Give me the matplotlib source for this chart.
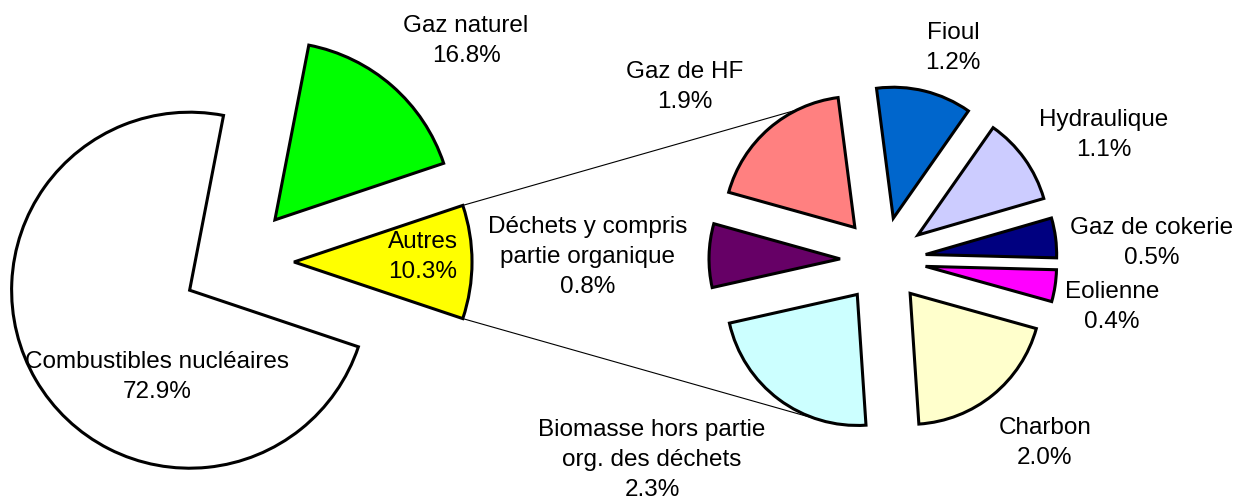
import numpy as np
import matplotlib
matplotlib.use("Agg")
import matplotlib.pyplot as plt

plt.rcParams['font.family'] = ['Liberation Sans', 'DejaVu Sans']

# main pie (counterclockwise from the "Autres" slice)
main_labels = ["Autres", "Gaz naturel", "Combustibles nucléaires"]
main_values = [10.3, 16.8, 72.9]
main_colors = ["#FFFF00", "#00FF00", "#FFFFFF"]

# breakdown of "Autres" (counterclockwise from Fioul)
sub_labels = ["Fioul", "Gaz de HF", "Déchets y compris\npartie organique",
              "Biomasse hors partie\norg. des déchets", "Charbon", "Eolienne",
              "Gaz de cokerie", "Hydraulique"]
sub_values = [1.2, 1.9, 0.8, 2.3, 2.0, 0.4, 0.5, 1.1]
sub_colors = ["#0066CC", "#FF8080", "#660066", "#CCFFFF", "#FFFFCC",
              "#FF00FF", "#000080", "#CCCCFF"]

W, H = 1253, 504

fig = plt.figure(figsize=(W / 100, H / 100), dpi=100)
ax = fig.add_axes([0, 0, 1, 1])

wp = dict(edgecolor="black", linewidth=2.2)

# explode is an absolute offset (pixels here)
start_main = -180 * main_values[0] / sum(main_values)
main_wedges, _ = ax.pie(main_values, colors=main_colors, radius=178,
                        center=(238, H - 262), startangle=start_main,
                        explode=[56] * 3, wedgeprops=wp)
sub_wedges, _ = ax.pie(sub_values, colors=sub_colors, radius=131,
                       center=(883, H - 260), startangle=55,
                       explode=[43] * len(sub_values), wedgeprops=wp)


def arc_point(w, ang):
    a = np.deg2rad(ang)
    return w.center[0] + w.r * np.cos(a), w.center[1] + w.r * np.sin(a)


# connector lines from "Autres" to the secondary pie
autres = main_wedges[0]
for a_ang, w, s_ang in [(autres.theta2, sub_wedges[1], 116),
                        (autres.theta1, sub_wedges[3], 255)]:
    x0, y0 = arc_point(autres, a_ang)
    x1, y1 = arc_point(w, s_ang)
    ax.plot([x0, x1], [y0, y1], color="black", linewidth=0.8, zorder=0.5)

# label positions (pixels from the top-left)
main_pos = [(423, 257), (466, 41), (157, 377)]
sub_pos = [(953, 48), (685, 87), (588, 257), (652, 460), (1045, 443),
           (1112, 307), (1152, 243), (1104, 135)]

for lab, val, (x, y) in zip(main_labels, main_values, main_pos):
    ax.text(x, H - y, f"{lab}\n{val:.1f}%", ha="center", va="center",
            fontsize=17.5, linespacing=1.45, color="black")
for lab, val, (x, y) in zip(sub_labels, sub_values, sub_pos):
    ax.text(x, H - y, f"{lab}\n{val:.1f}%", ha="center", va="center",
            fontsize=17.5, linespacing=1.45, color="black")

ax.set_xlim(0, W)
ax.set_ylim(0, H)
ax.set_aspect("auto")
ax.axis("off")

fig.savefig("out.png", dpi=100)
